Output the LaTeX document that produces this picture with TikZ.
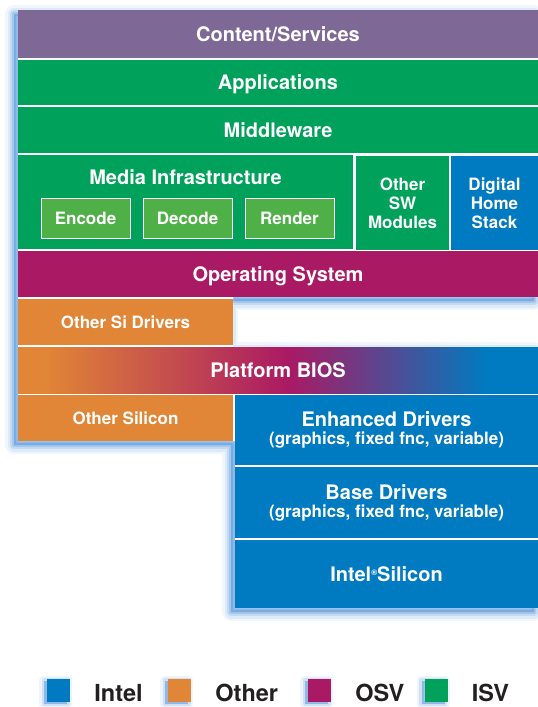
\documentclass[tikz,border=0pt]{standalone}
\usepackage{fontspec}
\setmainfont{TeX Gyre Heros}
\usetikzlibrary{math}
\usetikzlibrary{positioning}

\definecolor{ContentPurple}{RGB}{126,104,150}
\definecolor{IsvGreen}{RGB}{0,161,90}
\definecolor{CodecGreen}{RGB}{80,176,72}
\definecolor{OsvMagenta}{RGB}{170,25,100}
\definecolor{OtherOrange}{RGB}{225,134,54}
\definecolor{IntelBlue}{RGB}{0,122,192}
\definecolor{GlowBlue}{RGB}{20,110,205}
\definecolor{LegendText}{RGB}{35,31,32}

\newcommand\layerfont{\fontsize{20}{18}\selectfont\bfseries}
\newcommand\midfont{\fontsize{17}{19}\selectfont\bfseries}
\newcommand\legfont{\fontsize{23.5}{26}\selectfont\bfseries}

\pgfdeclarehorizontalshading{biosfade}{100bp}{color(0bp)=(OtherOrange); color(27.5bp)=(OtherOrange); color(51bp)=(OsvMagenta); color(70bp)=(IntelBlue); color(100bp)=(IntelBlue)}

\begin{document}
\begin{tikzpicture}[x=1pt, y=-1pt]

\tikzmath{
	\rowW = 520;
	\rowH = 46;
}

\tikzset{
  stack shadow/.style={
    preaction={draw=GlowBlue, draw opacity=.06, line width=18pt, line join=round,
      transform canvas={xshift=-4pt, yshift=-4pt}},
    preaction={draw=GlowBlue, draw opacity=.09, line width=13pt, line join=round,
      transform canvas={xshift=-4pt, yshift=-4pt}},
    preaction={draw=GlowBlue, draw opacity=.13, line width=8pt, line join=round,
      transform canvas={xshift=-4pt, yshift=-4pt}},
    preaction={draw=GlowBlue, draw opacity=.18, line width=4pt, line join=round,
      transform canvas={xshift=-4pt, yshift=-4pt}},
    preaction={fill=GlowBlue, fill opacity=.3,
      transform canvas={xshift=-4pt, yshift=-4pt}}
  },
  key shadow/.style={
    preaction={draw=GlowBlue, draw opacity=.08, line width=10pt, line join=round,
      transform canvas={xshift=-3pt, yshift=-2pt}},
    preaction={draw=GlowBlue, draw opacity=.14, line width=5pt, line join=round,
      transform canvas={xshift=-3pt, yshift=-2pt}},
    preaction={fill=GlowBlue, fill opacity=.35,
      transform canvas={xshift=-3pt, yshift=-2pt}}
  },
  layer/.style={fill=#1, text=white, font=\layerfont, align=center,
    inner sep=0pt, outer sep=0pt},
  fullrow/.style={layer=#1, minimum width=\rowW pt, minimum height=\rowH pt,
    text height=14pt, text depth=0pt},
  halfrow/.style={layer=#1, font=\midfont, minimum width=215pt,
    minimum height=\rowH pt, text height=12pt, text depth=0pt},
  codec/.style={fill=CodecGreen, draw=white, line width=1pt, text=white,
    font=\midfont, minimum width=89pt, minimum height=40pt, inner sep=0pt,
    text height=12pt, text depth=0pt},
  key/.style={fill=#1, minimum size=23pt, inner sep=0pt, key shadow},
  keytext/.style={text=LegendText, font=\legfont, inner sep=0pt}
}

\useasboundingbox (0,0) rectangle (538,707);

% outline of the stack, casting its blue shadow
\path[stack shadow, fill=white] (18,10) -- (538,10) -- (538,297) -- (233,297)
  -- (233,347) -- (538,347) -- (538,608) -- (235,608) -- (235,441) -- (18,441) -- cycle;

% software layers
\node[fullrow=ContentPurple, minimum height=48pt] (content) at (278,34) {Content/Services};
\node[fullrow=IsvGreen, minimum height=45pt] (apps) at (278,82.5) {Applications};
\node[fullrow=IsvGreen] (middleware) at (278,130) {Middleware};

\node[layer=IsvGreen, minimum width=335pt, minimum height=94pt] (media) at (185.5,202) {};
\node[text=white, font=\layerfont, inner sep=0pt] (mediatitle) at (185.5,177.5) {Media Infrastructure};
\node[codec] (encode) at (85.5,218) {Encode};
\node[codec] (decode) at (187.5,218) {Decode};
\node[codec] (render) at (289.5,218) {Render};
\node[layer=IsvGreen, font=\midfont, minimum width=93pt, minimum height=94pt] (othersw) at (402.5,203) {Other\\SW\\Modules};
\node[layer=IntelBlue, font=\midfont, minimum width=87pt, minimum height=94pt] (homestack) at (494.5,203) {Digital\\Home\\Stack};

\node[fullrow=OsvMagenta] (os) at (278,274) {Operating System};

% platform layers
\node[halfrow=OtherOrange] (sidrivers) at (125.5,322) {Other Si Drivers};
\node[fullrow=IntelBlue, shading=biosfade] (bios) at (278,370) {Platform BIOS};
\node[halfrow=OtherOrange] (othersilicon) at (125.5,418) {Other Silicon};

\node[layer=IntelBlue, minimum width=303pt, minimum height=70pt] (enhanced) at (386.5,430)
  {Enhanced Drivers\\{\midfont (graphics, fixed fnc, variable)}};
\node[layer=IntelBlue, minimum width=303pt, minimum height=71pt] (base) at (386.5,502.5)
  {Base Drivers\\{\midfont (graphics, fixed fnc, variable)}};
\node[layer=IntelBlue, minimum width=303pt, minimum height=68pt, text height=14pt, text depth=0pt] (intelsi) at (386.5,574)
  {Intel\raisebox{6pt}{\fontsize{8}{8}\selectfont ®}Silicon};

% legend
\node[key=IntelBlue] (keyintel) at (58.5,690) {};
\node[keytext, right=24pt of keyintel.south east, anchor=base west] (intellabel) {Intel};
\node[key=OtherOrange] (keyother) at (179.5,690) {};
\node[keytext, right=24pt of keyother.south east, anchor=base west] (otherlabel) {Other};
\node[key=OsvMagenta] (keyosv) at (319.5,690) {};
\node[keytext, right=24pt of keyosv.south east, anchor=base west] (osvlabel) {OSV};
\node[key=IsvGreen] (keyisv) at (436,690) {};
\node[keytext, right=24pt of keyisv.south east, anchor=base west] (isvlabel) {ISV};

\end{tikzpicture}
\end{document}
